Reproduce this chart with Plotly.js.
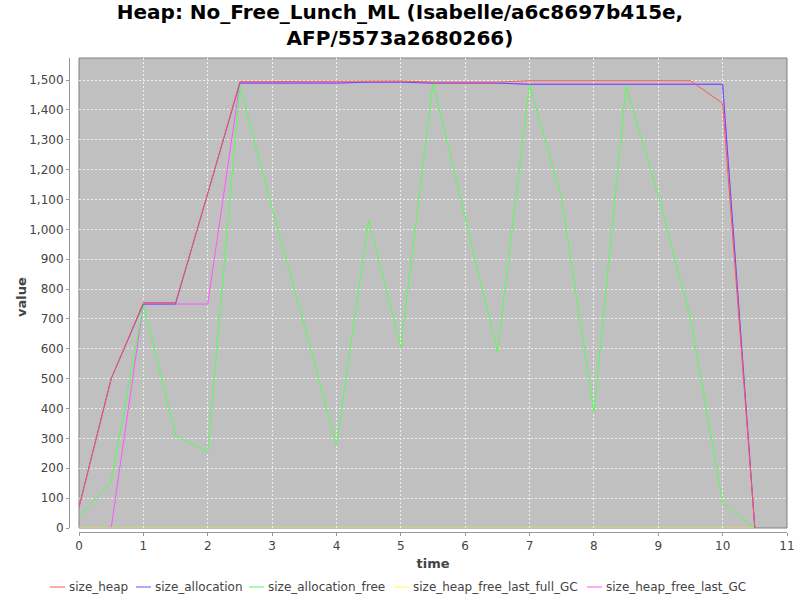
<!DOCTYPE html>
<html>
<head>
<meta charset="utf-8">
<script src="https://cdn.plot.ly/plotly-3.0.1.min.js"></script>
<style>body{margin:0;background:#fff}#chart{width:800px;height:600px}</style>
</head>
<body>
<div id="chart"></div>
<script>
const time = [0, 0.5, 1, 1.5, 2, 2.5, 3, 3.5, 4, 4.5, 5, 5.5, 6, 6.5, 7, 7.5, 8, 8.5, 9, 9.5, 10, 10.5];
const size_heap = [70, 500, 755, 755, 1120, 1495, 1495, 1495, 1495, 1497, 1497, 1493, 1493, 1493, 1498, 1498, 1498, 1498, 1498, 1498, 1422, 0];
const size_allocation = [70, 500, 750, 750, 1120, 1490, 1490, 1490, 1490, 1493, 1493, 1490, 1490, 1490, 1486, 1486, 1486, 1486, 1486, 1486, 1486, 0];
const size_allocation_free = [38, 155, 748, 311, 255, 1480, 1070, 680, 278, 1030, 603, 1490, 1040, 589, 1485, 1100, 389, 1480, 1115, 703, 83, 0];
const size_heap_free_last_full_GC = [0, 0, 0, 0, 0, 0, 0, 0, 0, 0, 0, 0, 0, 0, 0, 0, 0, 0, 0, 0, 0, 0];
const size_heap_free_last_GC_time = [0.5, 1, 1.5, 2, 2.5, 3, 3.5, 4, 4.5, 5, 5.5, 6, 6.5, 7, 7.5, 8, 8.5, 9, 9.5, 10, 10.5];
const size_heap_free_last_GC = [0, 750, 750, 750, 1490, 1490, 1490, 1490, 1493, 1493, 1490, 1490, 1490, 1486, 1486, 1486, 1486, 1486, 1486, 1486, 0];

const names = ['size_heap', 'size_allocation', 'size_allocation_free', 'size_heap_free_last_full_GC', 'size_heap_free_last_GC'];
const colors = ['#FF5555', '#5555FF', '#55FF55', '#FFFF55', '#FF55FF'];
const xs = [time, time, time, time, size_heap_free_last_GC_time];
const ys = [size_heap, size_allocation, size_allocation_free, size_heap_free_last_full_GC, size_heap_free_last_GC];

const traces = [];
for (let i = names.length - 1; i >= 0; i--) {
  traces.push({
    type: 'scatter', mode: 'lines', name: names[i],
    x: xs[i], y: ys[i],
    line: {color: colors[i], width: 1}, showlegend: false
  });
}

// page geometry (pixels)
const L = 69, R = 787, T = 58, B = 532;
const px = x => (x - L) / (R - L);
const py = y => (B - y) / (B - T);

const font = 'DejaVu Sans, sans-serif';

// legend drawn as line samples + labels
const legendLineStart = [50, 136, 249, 394, 587];
const legendY = 587;
const shapes = [{type: 'rect', xref: 'x domain', yref: 'y domain', x0: 0, x1: 1, y0: 0, y1: 1,
                 line: {color: '#808080', width: 1}, layer: 'below'}];
const annotations = [{xref: 'paper', yref: 'paper', x: px(21), y: py(297), textangle: -90,
  xanchor: 'center', yanchor: 'middle', showarrow: false, text: '<b>value</b>',
  font: {family: font, size: 13, color: '#444'}}];
names.forEach((n, i) => {
  shapes.push({type: 'line', xref: 'paper', yref: 'paper',
    x0: px(legendLineStart[i]), x1: px(legendLineStart[i] + 15), y0: py(legendY), y1: py(legendY),
    line: {color: colors[i], width: 1}});
  annotations.push({xref: 'paper', yref: 'paper', x: px(legendLineStart[i] + 17), y: py(legendY),
    xanchor: 'left', yanchor: 'middle', showarrow: false, text: n,
    font: {family: font, size: 12, color: '#444'}});
});

const layout = {
  width: 800, height: 600,
  margin: {l: L, r: 800 - R, t: T, b: 600 - B},
  paper_bgcolor: '#ffffff',
  plot_bgcolor: '#C0C0C0',
  title: {text: '<b>Heap: No_Free_Lunch_ML (Isabelle/a6c8697b415e,<br>AFP/5573a2680266)</b>',
          x: 0.5, xanchor: 'center', yref: 'container', y: 0.968, yanchor: 'top',
          font: {family: font, size: 20, color: '#000'}},
  xaxis: {
    domain: [px(79), 1], anchor: 'free', position: 0,
    range: [0, 11], dtick: 1, tick0: 0,
    showgrid: true, gridcolor: '#f0f0f0', griddash: '2px,2px', gridwidth: 1,
    zeroline: false, showline: true, linecolor: '#999999',
    ticks: 'outside', ticklen: 3, tickcolor: '#999999',
    tickfont: {family: font, size: 12, color: '#444'},
    title: {text: '<b>time</b>', font: {family: font, size: 13, color: '#444'}, standoff: 6}
  },
  yaxis: {
    domain: [py(528), 1], anchor: 'free', position: 0,
    range: [0, 1574], dtick: 100, tick0: 0, tickformat: ',d',
    showgrid: true, gridcolor: '#f0f0f0', griddash: '2px,2px', gridwidth: 1,
    zeroline: false, showline: true, linecolor: '#999999',
    ticks: 'outside', ticklen: 3, tickcolor: '#999999',
    tickfont: {family: font, size: 12, color: '#444'}
  },
  showlegend: false,
  shapes: shapes,
  annotations: annotations
};
Plotly.newPlot('chart', traces, layout, {displayModeBar: false});
</script>
</body>
</html>
